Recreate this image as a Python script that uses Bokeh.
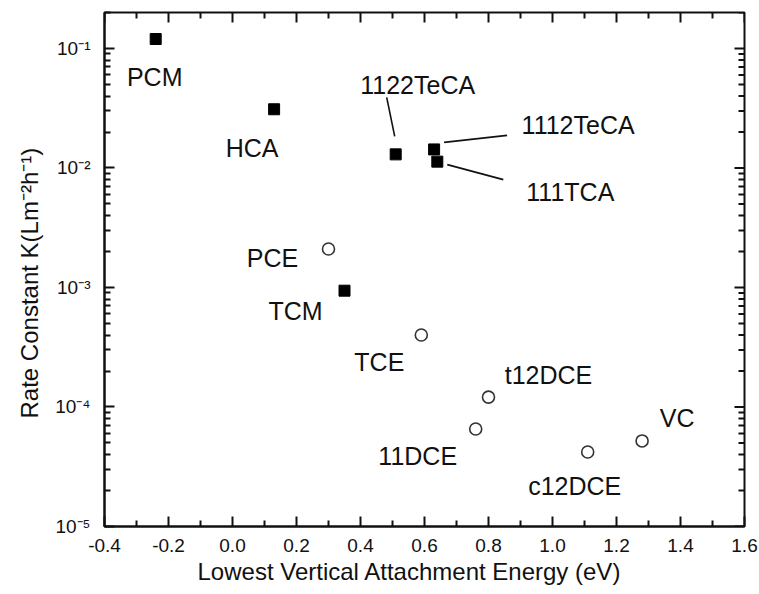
import math
from bokeh.plotting import figure
from bokeh.models import (FixedTicker, CustomJSTickFormatter, Title,
                          NumeralTickFormatter, Range1d, ColumnDataSource)
from bokeh.core.properties import value
from bokeh.embed import file_html
from bokeh.resources import INLINE

# ---------------- data ----------------
alkane_names = ["PCM", "HCA", "1122TeCA", "1112TeCA", "111TCA", "TCM"]
alkane_x = [-0.24, 0.13, 0.51, 0.63, 0.64, 0.35]
alkane_y = [0.12, 0.031, 0.013, 0.0143, 0.0113, 0.00094]

alkene_names = ["PCE", "TCE", "t12DCE", "11DCE", "c12DCE", "VC"]
alkene_x = [0.30, 0.59, 0.80, 0.76, 1.11, 1.28]
alkene_y = [0.0021, 0.0004, 0.000121, 0.0000655, 0.000042, 0.000052]

x_ticks = [-0.4, -0.2, 0.0, 0.2, 0.4, 0.6, 0.8, 1.0, 1.2, 1.4, 1.6]
x_minor = [-0.3, -0.1, 0.1, 0.3, 0.5, 0.7, 0.9, 1.1, 1.3, 1.5]
y_ticks = [1e-5, 1e-4, 1e-3, 1e-2, 1e-1]

x_title = "Lowest Vertical Attachment Energy (eV)"
y_title = "Rate Constant K(Lm\u207b\u00b2h\u207b\u00b9)"

# ---------------- layout (label offsets in screen px, y down) ----------------
alkane_lbl_dx = [-1, -22, 22, 144, 133, -49]
alkane_lbl_dy = [38, 39, -69, -24, 30, 20]
alkene_lbl_dx = [-56, -42, 60, -58, -13, 35]
alkene_lbl_dy = [9, 27, -22, 27, 34, -23]
leaders = [(2, (-1, -18), (-9, -57)),
           (3, (10, -7), (73, -14)),
           (4, (10, 3), (66, 18))]

X0, X1 = -0.4, 1.6
Y0, Y1 = 1e-5, 0.2
FW, FH = 640, 514
px_per_x = FW / (X1 - X0)
px_per_dec = FH / (math.log10(Y1) - math.log10(Y0))
MAJ, MIN = 10, 6

FONT = "Liberation Sans"
INK = "#111111"

p = figure(width=759, height=594, output_backend="svg", toolbar_location=None,
           y_axis_type="log", x_range=Range1d(X0, X1), y_range=Range1d(Y0, Y1),
           min_border_left=104, min_border_right=15, min_border_top=12, min_border_bottom=68)
p.outline_line_color = INK
p.outline_line_width = 2
p.xgrid.visible = False
p.ygrid.visible = False
p.background_fill_color = None
p.border_fill_color = "white"

xt = FixedTicker(ticks=x_ticks, minor_ticks=x_minor)
ymin = [k * 10.0 ** e for e in range(-5, 0) for k in range(2, 10)]
yt = FixedTicker(ticks=y_ticks, minor_ticks=ymin)

yfmt = CustomJSTickFormatter(code="""
const sup = {"-":"\u207b","0":"\u2070","1":"\u00b9","2":"\u00b2","3":"\u00b3","4":"\u2074","5":"\u2075","6":"\u2076","7":"\u2077","8":"\u2078","9":"\u2079"};
const e = Math.round(Math.log10(tick));
return "10" + String(e).split("").map(c => sup[c]).join("");
""")

def style(ax):
    ax.axis_line_width = 2
    ax.axis_line_color = INK
    ax.major_tick_line_width = 2
    ax.minor_tick_line_width = 2
    ax.major_tick_line_color = INK
    ax.minor_tick_line_color = INK
    ax.major_tick_in = MAJ
    ax.major_tick_out = 0
    ax.minor_tick_in = MIN
    ax.minor_tick_out = 0

xa = p.xaxis[0]
xa.ticker = xt
xa.formatter = NumeralTickFormatter(format="0.0")
style(xa)
xa.major_label_text_font = FONT
xa.major_label_text_font_size = "19px"
xa.major_label_text_color = INK
xa.major_label_standoff = 12

ya = p.yaxis[0]
ya.ticker = yt
ya.formatter = yfmt
style(ya)
ya.major_label_text_font = FONT
ya.major_label_text_font_size = "19px"
ya.major_label_text_color = INK
ya.major_label_standoff = 14

tx = Title(text=x_title, align="left", offset=93, standoff=2,
           text_font=FONT, text_font_size="24px", text_font_style="normal",
           text_color=INK)
p.add_layout(tx, "below")
ty = Title(text=y_title, align="left", offset=108, standoff=20,
           text_font=FONT, text_font_size="24px", text_font_style="normal",
           text_color=INK)
p.add_layout(ty, "left")

# mirrored ticks on the top and right frame edges (from the tick lists)
def top_ticks(vals, L):
    return dict(x0=vals, x1=vals, y0=[Y1] * len(vals),
                y1=[Y1 * 10 ** (-L / px_per_dec)] * len(vals))

def right_ticks(vals, L):
    return dict(y0=vals, y1=vals, x0=[X1] * len(vals),
                x1=[X1 - L / px_per_x] * len(vals))

for d in (top_ticks(x_ticks, MAJ), top_ticks(x_minor, MIN),
          right_ticks(y_ticks, MAJ), right_ticks(ymin, MIN)):
    p.segment(source=ColumnDataSource(d), x0="x0", y0="y0", x1="x1", y1="y1",
              line_color=INK, line_width=2)

lx0, ly0, lx1, ly1 = [], [], [], []
for i, a, b in leaders:
    lx0.append(alkane_x[i] + a[0] / px_per_x)
    ly0.append(alkane_y[i] * 10 ** (-a[1] / px_per_dec))
    lx1.append(alkane_x[i] + b[0] / px_per_x)
    ly1.append(alkane_y[i] * 10 ** (-b[1] / px_per_dec))
p.segment(x0=lx0, y0=ly0, x1=lx1, y1=ly1, line_color=INK, line_width=1.6)

src_a = ColumnDataSource(dict(x=alkane_x, y=alkane_y, t=alkane_names,
                              dx=alkane_lbl_dx, dy=alkane_lbl_dy))
src_e = ColumnDataSource(dict(x=alkene_x, y=alkene_y, t=alkene_names,
                              dx=alkene_lbl_dx, dy=alkene_lbl_dy))

p.scatter("x", "y", source=src_a, marker="square", size=11,
          fill_color="black", line_color="black")
p.scatter("x", "y", source=src_e, marker="circle", size=12,
          fill_color="white", line_color="#333333", line_width=1.6)

for src in (src_a, src_e):
    p.text("x", "y", text="t", source=src, x_offset="dx", y_offset="dy",
           text_align="center", text_baseline="middle",
           text_font=value(FONT), text_font_size="25px", text_color=INK)

with open("out.html", "w", encoding="utf-8") as f:
    f.write(file_html(p, INLINE))
